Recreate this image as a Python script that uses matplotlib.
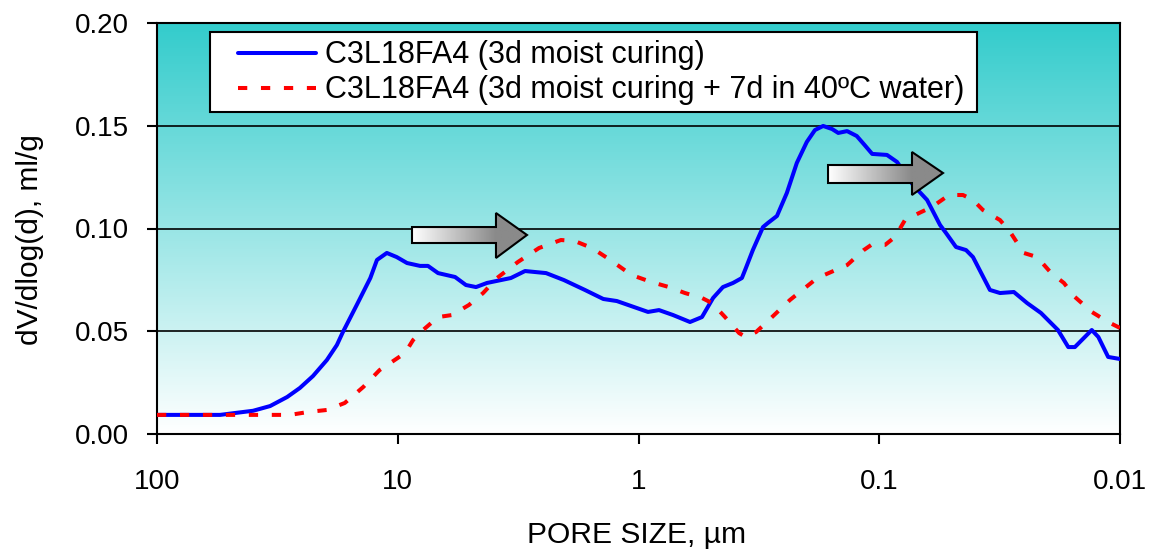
import numpy as np
import matplotlib
matplotlib.use("Agg")
import matplotlib.pyplot as plt
from matplotlib.patches import Polygon, Rectangle
from matplotlib.ticker import NullLocator, FixedLocator, FixedFormatter

plt.rcParams['font.family'] = ['Liberation Sans', 'DejaVu Sans']

# ---------------- data ----------------
series_labels = ["C3L18FA4 (3d moist curing)",
                 "C3L18FA4 (3d moist curing + 7d in 40\u00baC water)"]

pore_a = [100, 54.7, 48.3, 39.9, 33.9, 28.8, 25.5, 22.5, 19.7, 17.9,
          16.9, 14.8, 13.0, 12.2, 11.1, 10.1, 9.15, 8.08, 7.49, 6.80,
          5.78, 5.21, 4.73, 4.26, 3.39, 2.96, 2.42, 2.04, 1.67, 1.40,
          1.23, 0.913, 0.822, 0.719, 0.611,
          0.545, 0.490, 0.446, 0.405, 0.372, 0.358, 0.335, 0.304, 0.290, 0.266,
          0.242, 0.220, 0.200, 0.185, 0.171, 0.157, 0.148, 0.136, 0.124, 0.115,
          0.107, 0.0929, 0.0844, 0.0724, 0.0633, 0.0559, 0.0528,
          0.0480, 0.0436, 0.0408, 0.0347, 0.0315, 0.0276, 0.0243, 0.0213, 0.0181, 0.0164,
          0.0154, 0.0131, 0.0123, 0.0112, 0.0100]
dv_a = [0.0093, 0.0093, 0.0101, 0.0113, 0.0136, 0.0180, 0.0224, 0.0282, 0.0360, 0.0433,
        0.0496, 0.0628, 0.0759, 0.0847, 0.0881, 0.0861, 0.0832, 0.0818, 0.0818, 0.0783,
        0.0764, 0.0725, 0.0715, 0.0735, 0.0759, 0.0793, 0.0783, 0.0749, 0.0701, 0.0657,
        0.0647, 0.0594, 0.0603, 0.0579, 0.0545,
        0.0569, 0.0662, 0.0715, 0.0735, 0.0759, 0.0808, 0.0895, 0.1007, 0.1027, 0.1061,
        0.1173, 0.1319, 0.1421, 0.1479, 0.1499, 0.1484, 0.1465, 0.1474, 0.1450, 0.1406,
        0.1363, 0.1358, 0.1324, 0.1212, 0.1139, 0.1017, 0.0978,
        0.0910, 0.0895, 0.0861, 0.0701, 0.0686, 0.0691, 0.0637, 0.0589, 0.0506, 0.0423,
        0.0423, 0.0506, 0.0472, 0.0375, 0.0365]

pore_b = [100, 39.2, 28.0, 23.6, 19.7, 16.6, 13.9, 11.9, 10.6, 9.33, 8.64, 7.85, 6.80, 5.95,
          5.06, 4.42, 3.87, 3.17, 2.59, 2.10, 1.84, 1.56, 1.31, 1.07,
          0.887, 0.747, 0.641, 0.545, 0.495, 0.437, 0.382, 0.358, 0.325, 0.287,
          0.235, 0.181, 0.136, 0.116, 0.108, 0.0946, 0.0860, 0.0782, 0.0684, 0.0604,
          0.0513, 0.0449, 0.0408, 0.0371, 0.0315, 0.0286, 0.0251, 0.0221, 0.0193, 0.0171,
          0.0154, 0.0131, 0.0112, 0.0100]
dv_b = [0.0093, 0.0093, 0.0093, 0.0107, 0.0117, 0.0151, 0.0229, 0.0311, 0.0350, 0.0394,
        0.0457, 0.0506, 0.0569, 0.0579,
        0.0628, 0.0686, 0.0759, 0.0837, 0.0905, 0.0944, 0.0939, 0.0905, 0.0847, 0.0774,
        0.0740, 0.0715, 0.0686, 0.0662, 0.0637, 0.0569, 0.0491, 0.0472, 0.0496, 0.0555,
        0.0652, 0.0759, 0.0822, 0.0895, 0.0920, 0.0920, 0.0959, 0.1041, 0.1075, 0.1105,
        0.1163, 0.1163, 0.1139, 0.1090, 0.1041, 0.0983, 0.0881, 0.0861, 0.0783, 0.0735,
        0.0667, 0.0594, 0.0545, 0.0516]

x_ticks = [100, 10, 1, 0.1, 0.01]
x_tick_labels = ["100", "10", "1", "0.1", "0.01"]
y_ticks = [0.00, 0.05, 0.10, 0.15, 0.20]
y_tick_labels = ["0.00", "0.05", "0.10", "0.15", "0.20"]
x_label = "PORE SIZE, \u00b5m"
y_label = "dV/dlog(d), ml/g"

# ---------------- figure ----------------
W, H = 1154, 550
fig = plt.figure(figsize=(W / 100, H / 100), dpi=100)
fig.patch.set_facecolor("white")
pos = [157 / W, (H - 434) / H, 963 / W, 411 / H]

# background gradient
bg = fig.add_axes(pos, zorder=0)
top_c = np.array([0.20, 0.80, 0.80])
bot_c = np.array([1.0, 1.0, 1.0])
t = np.linspace(0, 1, 256)[:, None]  # 0 top -> 1 bottom
grad = (top_c[None, :] * (1 - t) + bot_c[None, :] * t)[:, None, :]
bg.imshow(grad, aspect="auto", extent=[0, 1, 0, 1], interpolation="bilinear")
bg.set_xlim(0, 1)
bg.set_ylim(0, 1)
bg.axis("off")

# main axes
ax = fig.add_axes(pos, zorder=1)
ax.set_facecolor("none")
ax.set_xscale("log")
line_a, = ax.plot(pore_a, dv_a, color="#0000FF", lw=2.9, solid_joinstyle="round",
                  solid_capstyle="round", zorder=3)
line_b, = ax.plot(pore_b, dv_b, color="#FF0000", lw=2.9, linestyle=(0, (2.3, 3.4)),
                  dash_capstyle="butt", zorder=4)
ax.set_xlim(100, 0.01)
ax.set_ylim(0, 0.20)
ax.xaxis.set_major_locator(FixedLocator(x_ticks))
ax.xaxis.set_major_formatter(FixedFormatter(x_tick_labels))
ax.xaxis.set_minor_locator(NullLocator())
ax.set_yticks(y_ticks)
ax.set_yticklabels(y_tick_labels)
for yv in y_ticks[1:-1]:
    ax.axhline(yv, color="black", lw=1.2, zorder=2)
ax.tick_params(axis="both", direction="out", length=7, width=1.5, labelsize=20,
               color="black")
ax.tick_params(axis="x", pad=18)
ax.tick_params(axis="y", pad=13)
for s in ax.spines.values():
    s.set_linewidth(1.5)
    s.set_color("black")

fig.text(30 / W, 1 - 240 / H, y_label, rotation=90, ha="center", va="center", fontsize=21.5)
fig.text(637 / W, (H - 543) / H, x_label, ha="center", va="baseline", fontsize=21.6)

# overlay axes for arrows and legend
ov = fig.add_axes(pos, zorder=2)
ov.set_facecolor("none")
ov.set_xlim(0, 1)
ov.set_ylim(0, 1)
ov.axis("off")


def draw_arrow(axo, x0, xb, xt, yb0, yb1, yh0, yh1, ym):
    verts = [(x0, yb0), (xb, yb0), (xb, yh0), (xt, ym), (xb, yh1), (xb, yb1), (x0, yb1)]
    poly = Polygon(verts, closed=True, facecolor="none", edgecolor="black", lw=1.5,
                   zorder=3, joinstyle="miter")
    axo.add_patch(poly)
    xs = np.linspace(x0, xt, 300)
    tt = np.clip((xs - x0) / (xb - x0), 0, 1)
    g = 1 - tt * (1 - 0.54)
    img = np.tile(g, (2, 1))
    im = axo.imshow(img, cmap="gray", vmin=0, vmax=1, extent=[x0, xt, yh0, yh1],
                    aspect="auto", zorder=2, interpolation="bilinear")
    im.set_clip_path(poly)


draw_arrow(ov, 0.2648, 0.3520, 0.3842, 0.4647, 0.5036, 0.4282, 0.5377, 0.4842)
draw_arrow(ov, 0.6968, 0.7840, 0.8162, 0.6107, 0.6545, 0.5815, 0.6861, 0.6350)
ov.set_xlim(0, 1)
ov.set_ylim(0, 1)

# legend
ov.add_patch(Rectangle((0.055, 0.7835), 0.7965, 0.1945, facecolor="white",
                       edgecolor="black", lw=1.5, zorder=5))
leg = ov.legend([line_a, line_b], series_labels, loc="upper left",
                bbox_to_anchor=(0.0841, 0.958), frameon=False, borderpad=0,
                borderaxespad=0, handlelength=2.55, handletextpad=0.29,
                labelspacing=0.17, fontsize=22)
leg.set_zorder(6)

fig.savefig("out.png", dpi=100)
